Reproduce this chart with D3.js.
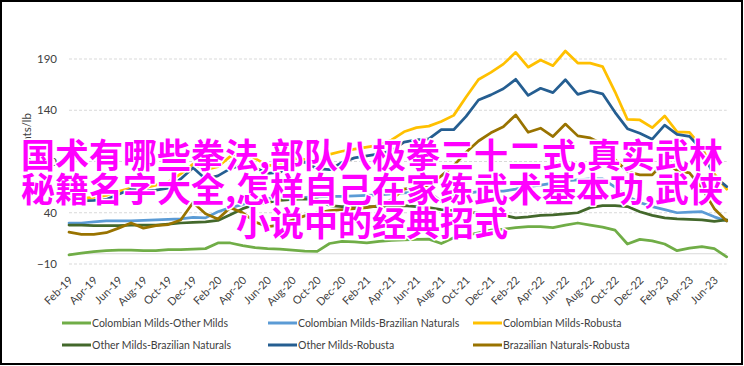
<!DOCTYPE html>
<html><head><meta charset="utf-8">
<script src="https://cdn.jsdelivr.net/npm/d3@7"></script>
<style>html,body{margin:0;padding:0;background:#fff;} svg{display:block;}</style>
</head><body>
<svg id="c" width="744" height="366"></svg>
<script>
const months = ["Feb-19","Mar-19","Apr-19","May-19","Jun-19","Jul-19","Aug-19","Sep-19","Oct-19","Nov-19","Dec-19",
"Jan-20","Feb-20","Mar-20","Apr-20","May-20","Jun-20","Jul-20","Aug-20","Sep-20","Oct-20","Nov-20","Dec-20",
"Jan-21","Feb-21","Mar-21","Apr-21","May-21","Jun-21","Jul-21","Aug-21","Sep-21","Oct-21","Nov-21","Dec-21",
"Jan-22","Feb-22","Mar-22","Apr-22","May-22","Jun-22","Jul-22","Aug-22","Sep-22","Oct-22","Nov-22","Dec-22",
"Jan-23","Feb-23","Mar-23","Apr-23","May-23","Jun-23","Jul-23"];
const tickLabels = ["Feb-19","Apr-19","Jun-19","Aug-19","Oct-19","Dec-19","Feb-20","Apr-20","Jun-20","Aug-20","Oct-20","Dec-20",
"Feb-21","Apr-21","Jun-21","Aug-21","Oct-21","Dec-21","Feb-22","Apr-22","Jun-22","Aug-22","Oct-22","Dec-22","Feb-23","Apr-23","Jun-23"];
const yTicks = [-10, 40, 90, 140, 190];
const yTitle = "US cents/lb";

const seriesNames = ["Colombian Milds-Other Milds","Colombian Milds-Brazilian Naturals","Colombian Milds-Robusta",
"Other Milds-Brazilian Naturals","Other Milds-Robusta","Brazailian Naturals-Robusta"];
const seriesColors = ["#70ad47","#5b9bd5","#ffc000","#43682b","#255e91","#997300"];

const cmOtherMilds = [-1,0.5,2,3,3.5,3.5,3,3,4,4,4.5,5,10.5,10.5,8,6,5,4.5,3.5,2.5,2.3,10,12,11.5,10.5,12,13,13.5,14,14.3,10,15.5,18,20.5,23,24,25.5,26.5,26.5,25.5,28,30,28,26,23,9.5,14,12.5,9.5,3,5.5,7,5,-3];
const cmBrazilNat = [30,30,31,32,32,32,32.5,33,33.5,34,35.5,35,41,45,48,52,54,54.5,55,55,55.5,56,56,56.5,57,57.5,58.5,59.5,60,60.5,51,58,59,60.5,61,61,63,65.5,67,69,71,72,73,73,65,56,50,46,43,40,40.5,41,36,32];
const cmRobusta = [55,54,55,57,61,64,64,67,70,78,87.5,82,85,95,97,93,86,87,93,92,89,97,100,102,104,106,111,119,123,124.5,129,135,153,170,177,185,196.5,182,189,183.5,197.8,186,186,182.5,158,131,130.5,123,134.5,119,118.5,104,78,63];
const omBrazilNat = [28,28,27.5,27.5,27.5,28,28,28,29,30,30.5,31,32.5,38,44,48,50,52,53,53.5,53,47,46,46,46,46,46.5,47,46,45,43,42,41,39.5,37,37.5,35,36,37.5,38,39,40,45,47,47,46,41,37.5,35,34,33.5,33,31.5,33];
const omRobusta = [53,51.5,52,53,58,63,61,62,64,73,84,73,76,83,87,84,78.5,79.5,88,89.5,83,82,89,93.5,95.5,97.5,100.5,109,111,112,121,121,134,150,155,161,170.2,154.5,161.4,157.2,169.8,155.5,159,156,138,122,117.5,111.8,125.5,116.5,114.5,101.5,75.5,65.5];
const bnRobusta = [21,19,19,20.5,25,30,25,27.5,28.5,33,50,39,34,45,40,31,26.5,28,33,37,40,42,43,44,45,47,53,63,65,67,76,86,99,110,118,124,135.4,118.5,122.5,114.3,126.5,115,113,107,92,80,77,77,90,81,79,64,44,32];

const overlayLines = ["国术有哪些拳法,部队八极拳三十二式,真实武林","秘籍名字大全,怎样自己在家练武术基本功,武侠","小说中的经典招式"];

const seriesData = [cmOtherMilds, cmBrazilNat, cmRobusta, omBrazilNat, omRobusta, bnRobusta];

const svg = d3.select("#c");
const font = "Lato, 'Open Sans', sans-serif";
const txtColor = "#404040";

svg.append("rect").attr("x",1).attr("y",1).attr("width",741).attr("height",363)
  .attr("fill","#fff").attr("stroke","#000").attr("stroke-width",2);

const x = d3.scalePoint().domain(months).range([69, 726.7]);
const y = d3.scaleLinear().domain([-10, 190]).range([264, 59]);

// gridlines
svg.append("g").selectAll("line").data(yTicks).join("line")
  .attr("x1", x.range()[0]).attr("x2", x.range()[1])
  .attr("y1", d => y(d)).attr("y2", d => y(d))
  .attr("stroke", "#d9d9d9").attr("stroke-width", 1).attr("stroke-dasharray", "3,2");
svg.append("line").attr("x1", x.range()[0]).attr("x2", x.range()[1])
  .attr("y1", y(0)).attr("y2", y(0)).attr("stroke", "#d9d9d9").attr("stroke-width", 1);

// y axis
const gy = svg.append("g").attr("transform", `translate(${x.range()[0]},0)`)
  .call(d3.axisLeft(y).tickValues(yTicks).tickSize(0).tickPadding(12));
gy.select(".domain").remove();
gy.selectAll("text").attr("font-family", font).attr("font-size", 11.5).attr("fill", txtColor);

// y title
svg.append("text").attr("transform", "translate(31,113) rotate(-90)")
  .attr("text-anchor", "end").attr("font-family", font).attr("font-size", 11.5).attr("fill", txtColor).text(yTitle);

// x axis
const gx = svg.append("g").attr("transform", `translate(0,${y(-10)})`)
  .call(d3.axisBottom(x).tickValues(tickLabels).tickSize(0));
gx.select(".domain").remove();
gx.selectAll("text").attr("font-family", font).attr("font-size", 11).attr("fill", txtColor)
  .attr("y", 0).attr("dy", 0).attr("text-anchor", "end")
  .attr("transform", "translate(4,17) rotate(-45)");

// lines
const line = d3.line().x((d, i) => x(months[i])).y(d => y(d));
svg.append("g").selectAll("path").data(seriesData).join("path")
  .attr("d", d => line(d)).attr("fill", "none")
  .attr("stroke", (d, i) => seriesColors[i]).attr("stroke-width", 2.75)
  .attr("stroke-linejoin", "round").attr("stroke-linecap", "round");

// legend
const legX = [62, 268, 473], legY = [323, 345];
const lg = svg.append("g").selectAll("g").data(seriesNames).join("g")
  .attr("transform", (d, i) => `translate(${legX[i % 3]},${legY[Math.floor(i / 3)]})`);
lg.append("line").attr("x1", 0).attr("x2", 29).attr("y1", 0).attr("y2", 0)
  .attr("stroke", (d, i) => seriesColors[i]).attr("stroke-width", 3);
lg.append("text").attr("x", 30).attr("dy", "0.35em").attr("font-family", font)
  .attr("font-size", 10.5).attr("fill", txtColor).text(d => d);

// overlay text
svg.append("g").selectAll("text").data(overlayLines).join("text")
  .attr("x", 372).attr("y", (d, i) => 168 + i * 34).attr("text-anchor", "middle")
  .attr("font-family", "'Noto Sans CJK SC', sans-serif").attr("font-size", 34).attr("font-weight", "bold")
  .attr("fill", "#ff00ff").attr("stroke", "#fff").attr("stroke-width", 3)
  .attr("paint-order", "stroke").attr("stroke-linejoin", "round").text(d => d);
</script>
</body></html>
